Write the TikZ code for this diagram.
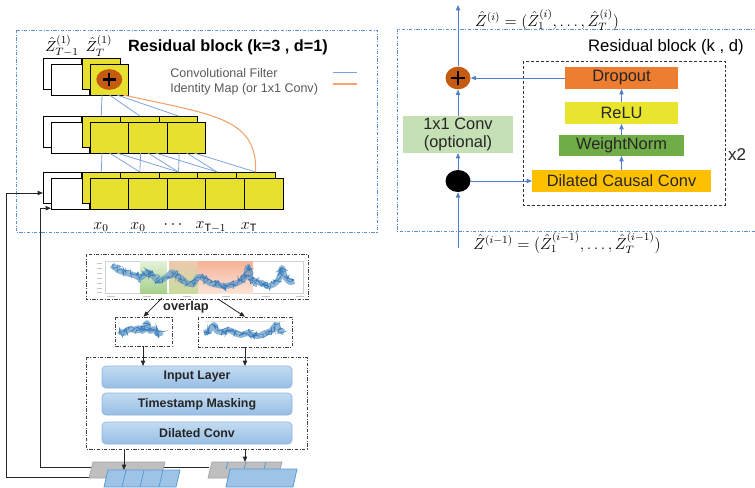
\documentclass[tikz,border=0pt]{standalone}
\usepackage{fontspec}
\setmainfont{Liberation Sans}
\usetikzlibrary{arrows.meta,shapes.geometric,decorations.pathmorphing}
\definecolor{ylw}{HTML}{E8E02E}
\definecolor{plusor}{HTML}{C55A11}
\definecolor{convblue}{HTML}{7FA2DE}
\definecolor{idor}{HTML}{F4A36C}
\definecolor{frameblue}{HTML}{5E8FCF}
\definecolor{arrblue}{HTML}{4F7DC8}
\definecolor{legtext}{HTML}{595959}
\definecolor{txt}{HTML}{262626}
\definecolor{convgreen}{HTML}{C5E0B4}
\definecolor{dropor}{HTML}{ED7D31}
\definecolor{reluy}{HTML}{E9E52F}
\definecolor{wngreen}{HTML}{70AD47}
\definecolor{dccgold}{HTML}{FFC000}
\definecolor{lbtop}{HTML}{C3DBF1}
\definecolor{lbbot}{HTML}{97BEE5}
\definecolor{lbdraw}{HTML}{8DB3E2}
\definecolor{tsblue}{HTML}{2E75B6}
\definecolor{pgray}{HTML}{BFBFBF}
\definecolor{pgraydraw}{HTML}{A0A0A0}
\definecolor{pblue}{HTML}{9DC3E6}
\definecolor{pbluedraw}{HTML}{5B9BD5}
\definecolor{greentop}{HTML}{E4F2DA}
\definecolor{greenbot}{HTML}{A5D08A}
\definecolor{salmtop}{HTML}{F6B297}
\definecolor{salmbot}{HTML}{FBE3D6}
\definecolor{mixtop}{HTML}{EDC9AE}
\definecolor{mixbot}{HTML}{C9DC9E}
\begin{document}
\begin{tikzpicture}[x=0.75pt,y=-0.75pt,
  cell/.style={draw=black, line width=0.5pt, minimum width=28.95pt, minimum height=23.25pt, anchor=north west, inner sep=0pt, outer sep=0pt},
  wcell/.style={cell, fill=white},
  ycell/.style={cell, fill=ylw},
  filt/.style={draw=convblue, line width=0.6pt},
  ident/.style={draw=idor, line width=0.8pt},
  outerframe/.style={draw=frameblue, line width=0.6pt, dash pattern=on 2.5pt off 1.2pt on 0.6pt off 1.2pt},
  ddframe/.style={draw=black!75, line width=0.6pt, dash pattern=on 2.5pt off 1.2pt on 0.6pt off 1.2pt},
  karr/.style={draw=black!85, line width=0.6pt, -{Triangle[length=4pt,width=3.2pt]}},
  barr/.style={draw=arrblue, line width=0.6pt, -{Triangle[length=4pt,width=3.2pt]}},
  rbox/.style={inner sep=0pt, outer sep=0pt, font=\fontsize{12.3}{14}\selectfont, text=txt},
  lbox/.style={inner sep=0pt, outer sep=0pt, rounded corners=3pt, draw=lbdraw, line width=0.5pt, top color=lbtop, bottom color=lbbot, font=\fontsize{9.3}{11}\selectfont\bfseries, text=txt, minimum width=142.5pt, minimum height=16.5pt},
  band/.style={draw=tsblue!75, line width=4.4pt, line join=round, opacity=0.7},
  noisy/.style={draw=tsblue, line width=0.45pt, opacity=0.85, decorate, decoration={random steps, segment length=0.8pt, amplitude=3.4pt}},
  plusmark/.style={draw=black, line width=1.7pt},
  mlabel/.style={inner sep=0pt, font=\fontsize{12}{14}\selectfont}
]
\useasboundingbox (0,0) rectangle (755,487);
\pgfmathsetseed{7}

% ================= LEFT: residual block (k=3, d=1) =================
\draw[outerframe] (16,30) rectangle (377,232);
\node[inner sep=0pt, font=\fontsize{12.2}{14}\selectfont\bfseries, text=black] (ltitle) at (228,47) {Residual block (k=3 , d=1)};

\foreach \t/\n/\L in {58/1/T, 116/3/M, 172/5/B} {
  \node[wcell] (\L wb) at (43,\t) {};
  \node[wcell] (\L wf) at (51,{\t+6}) {};
  \foreach \i in {1,...,\n} {
    \node[ycell] (\L b\i) at ({82+38.6*(\i-1)},\t) {};
  }
  \foreach \i in {1,...,\n} {
    \node[ycell] (\L f\i) at ({90+38.6*(\i-1)},{\t+6}) {};
  }
}

% plus in top cell
\node[ellipse, fill=plusor, minimum width=19.5pt, minimum height=15.5pt, inner sep=0pt] (tplus) at (Tf1.center) {};
\draw[plusmark] ([xshift=-5pt]tplus.center) -- ([xshift=5pt]tplus.center);
\draw[plusmark] ([yshift=-5pt]tplus.center) -- ([yshift=5pt]tplus.center);

% labels above
\node[mlabel, font=\fontsize{11}{13}\selectfont] (zl1) at (62,46) {$\hat{Z}_{T-1}^{(1)}$};
\node[mlabel, font=\fontsize{11}{13}\selectfont] (zl2) at (99,46) {$\hat{Z}_{T}^{(1)}$};

% convolutional filter lines
\foreach \m in {0,1,2} {
  \pgfmathtruncatemacro{\tg}{1+\m}
  \draw[filt] ([xshift={(9+5.6*\m)*1pt}]Tf1.south west) -- (Mb\tg.north);
}
\foreach \j in {1,2,3} {
  \foreach \m in {0,1,2} {
    \pgfmathtruncatemacro{\tg}{\j+\m}
    \draw[filt] ([xshift={(9+5.6*\m)*1pt}]Mf\j.south west) -- (Bb\tg.north);
  }
}
% identity map
\draw[ident] ([xshift=-4pt]Tf1.south east) .. controls (215,115) and (257,118) .. (Bb5.north);

% legend
\node[anchor=west, inner sep=0pt, font=\fontsize{9.4}{11}\selectfont, text=legtext] (leg1) at (170,73) {Convolutional Filter};
\node[anchor=west, inner sep=0pt, font=\fontsize{9.4}{11}\selectfont, text=legtext] (leg2) at (170,89) {Identity Map (or 1x1 Conv)};
\coordinate (lg1a) at (333,72); \coordinate (lg1b) at (357,72);
\coordinate (lg2a) at (333,84); \coordinate (lg2b) at (357,84);
\draw[filt] (lg1a) -- (lg1b);
\draw[ident] (lg2a) -- (lg2b);

% x labels
\node[mlabel] (x1) at (101,227) {$x_0$};
\node[mlabel] (x2) at (138,227) {$x_0$};
\node[mlabel] (x3) at (173,225) {$\cdots$};
\node[mlabel] (x4) at (211,227) {$x_{\mathrm{T}-1}$};
\node[mlabel] (x5) at (249,227) {$x_{\mathrm{T}}$};

% ================= BOTTOM: data pipeline =================
\draw[ddframe] (86,254) rectangle (308,299);
\coordinate (plotA) at (105,261); \coordinate (plotB) at (303,293);
\draw[black!18, line width=0.3pt] (plotA) rectangle (plotB);
\foreach \yy in {263,268,273,278,283,288,292} {
  \draw[black!22, line width=0.7pt] (97,\yy) -- (102,\yy);
}
\foreach \xx in {111,147,187,226,266,300} {
  \draw[black!22, line width=0.7pt] ({\xx-4},296) -- ({\xx+4},296);
}
% highlighted windows (behind the series)
\fill[top color=salmtop, bottom color=salmbot] (198,261) rectangle (253,293);
\fill[top color=greentop, bottom color=greenbot] (140,261) rectangle (168,293);
\fill[top color=mixtop, bottom color=mixbot] (168,261) rectangle (198,293);
\draw[white, line width=0.8pt] (168,261) -- (168,293);
\def\mainseries{(112,265) (118,270) (126,273) (134,275) (140,278) (144,275) (148,272) (153,276) (158,281) (163,279) (168,276) (172,272) (176,275) (181,278) (187,283) (193,284) (198,277) (203,278) (210,283) (218,285) (226,286) (234,284) (241,281) (246,275) (248,267) (251,279) (256,282) (262,283) (268,286) (274,284) (279,279) (282,268) (285,277) (290,282) (294,281)}
\draw[band] plot[smooth, tension=0.5] coordinates {\mainseries};
\draw[noisy] plot coordinates {\mainseries};

\node[inner sep=0pt, font=\fontsize{9.6}{11}\selectfont\bfseries, text=txt] (ovl) at (186,307) {overlap};

% sub-series boxes
\draw[ddframe] (115,317) rectangle (172,346);
\node[inner sep=0pt, minimum width=42.75pt, minimum height=21.75pt] (s1) at (143.5,331.5) {};
\draw[ddframe] (198,317) rectangle (292,347);
\node[inner sep=0pt, minimum width=70.5pt, minimum height=22.5pt] (s2) at (245,332) {};
\draw[black!12, line width=0.5pt] (205,321) -- (285,321);
\def\seriesA{(119,331) (124,333) (129,329) (134,330) (139,328) (143,331) (147,323) (150,331) (154,329) (158,334) (162,332)}
\def\seriesB{(204,333) (209,331) (214,325) (217,331) (223,332) (229,330) (235,333) (241,335) (247,333) (253,335) (259,336) (265,333) (271,331) (276,325) (279,330) (284,332)}
\draw[band] plot[smooth, tension=0.5] coordinates {\seriesA};
\draw[noisy] plot coordinates {\seriesA};
\draw[band] plot[smooth, tension=0.5] coordinates {\seriesB};
\draw[noisy] plot coordinates {\seriesB};

\coordinate (pa1) at (162,298); \coordinate (pa2) at (218,299);
\draw[karr] (pa1) -- (s1.north);
\draw[karr] (pa2) -- (s2.north);

% encoder box
\draw[ddframe] (86,357) rectangle (307,449);
\node[lbox] (inl) at (197,377) {Input Layer};
\node[lbox] (tsm) at (197,404) {Timestamp Masking};
\node[lbox] (dil) at (197,433) {Dilated Conv};

\coordinate (sb1) at (143,346); \coordinate (sb2) at (245,347);
\draw[karr] (sb1) -- (inl.north -| sb1);
\draw[karr] (sb2) -- (inl.north -| sb2);

% lines back to residual block (behind parallelograms)
\coordinate (g2w) at (209,467);
\coordinate (inL) at (40,467);
\coordinate (b1w) at (106,477);
\coordinate (outL) at (6,477);
\draw[karr] (g2w) -- (inL) |- ([yshift=0.6pt]Bwf.south west);
\draw[karr] (b1w) -- (outL) |- ([yshift=-4.1pt]Bwb.west);

% parallelograms
\filldraw[fill=pgray, draw=pgraydraw, line width=0.5pt] (93,462) -- (165,462) -- (161,478) -- (89,478) -- cycle;
\filldraw[fill=pblue, draw=pbluedraw, line width=0.6pt] (108,470) -- (180,470) -- (176,487) -- (104,487) -- cycle;
\foreach \xx in {126,144,163} { \draw[pbluedraw, line width=0.6pt] (\xx,470) -- ({\xx-4},487); }
\filldraw[fill=pgray, draw=pgraydraw, line width=0.5pt] (212,462) -- (282,462) -- (278,478) -- (208,478) -- cycle;
\foreach \xx in {228,246,266} { \draw[pbluedraw, line width=0.6pt] (\xx,462) -- ({\xx-2},469); }
\filldraw[fill=pblue, draw=pbluedraw, line width=0.6pt] (230,469) -- (297,469) -- (293,487) -- (226,487) -- cycle;
\coordinate (b1top) at (124,470); \coordinate (g2top) at (245,462);
\draw[karr] (dil.south -| b1top) ++(0,-4.5pt) -- (b1top);
\draw[karr] (dil.south -| g2top) ++(0,-4.5pt) -- (g2top);

% ================= RIGHT: residual block (k, d) =================
\draw[outerframe] (757,29) -- (397,29) -- (397,231) -- (757,231);
\node[inner sep=0pt, font=\fontsize{12.5}{14}\selectfont, text=black] (rtitle) at (666,47) {Residual block (k , d)};
\draw[draw=black!80, line width=0.6pt, dash pattern=on 2.2pt off 1.5pt] (523,61) rectangle (725,205);
\node[inner sep=0pt, font=\fontsize{12.8}{14}\selectfont, text=txt] (x2lbl) at (737,155) {x2};

\coordinate (rbot) at (458,248);
\coordinate (rtop) at (458,5);
\node[ellipse, fill=black, minimum width=18.75pt, minimum height=16.5pt, inner sep=0pt] (dot) at (458,181) {};
\node[ellipse, fill=plusor, minimum width=18.75pt, minimum height=17pt, inner sep=0pt] (rplus) at (458,78) {};
\draw[plusmark] ([xshift=-5.5pt]rplus.center) -- ([xshift=5.5pt]rplus.center);
\draw[plusmark] ([yshift=-5.5pt]rplus.center) -- ([yshift=5.5pt]rplus.center);
\node[rbox, fill=convgreen, align=center, minimum width=82.5pt, minimum height=27.75pt, font=\fontsize{12.3}{13.8}\selectfont] (c1x1) at (458,134.5) {1x1 Conv\\(optional)};

\node[rbox, fill=dropor, minimum width=84.75pt, minimum height=16.5pt] (drop) at (621.5,78) {Dropout};
\node[rbox, fill=reluy, minimum width=84.75pt, minimum height=16.5pt] (relu) at (621.5,113) {ReLU};
\node[rbox, fill=wngreen, minimum width=93.75pt, minimum height=15.75pt] (wn) at (621.5,145.5) {WeightNorm};
\node[rbox, fill=dccgold, minimum width=134.25pt, minimum height=16.5pt] (dcc) at (621.5,181) {Dilated Causal Conv};

\draw[barr] (rbot) -- (dot);
\draw[barr] (dot) -- (c1x1);
\draw[barr] (c1x1) -- (rplus);
\draw[barr] (rplus) -- (rtop);
\draw[barr] (dot) -- (dcc);
\draw[barr] (dcc) -- (wn);
\draw[barr] (wn) -- (relu);
\draw[barr] (relu) -- (drop);
\draw[barr] (drop) -- (rplus);

\node[mlabel] (ztop) at (547,20) {$\hat{Z}^{(i)}=(\hat{Z}_1^{(i)},\ldots,\hat{Z}_T^{(i)})$};
\node[mlabel] (zbot) at (567,243) {$\hat{Z}^{(i-1)}=(\hat{Z}_1^{(i-1)},\ldots,\hat{Z}_T^{(i-1)})$};
\end{tikzpicture}
\end{document}
